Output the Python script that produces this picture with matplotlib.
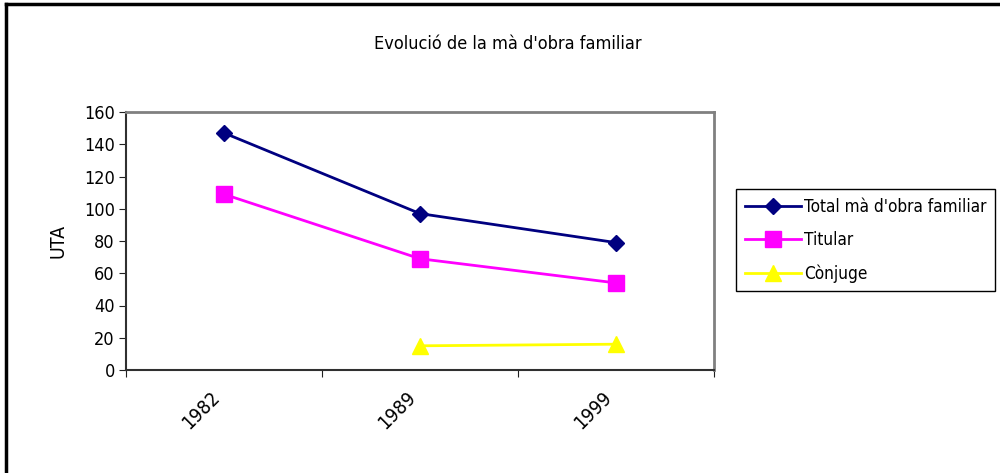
import matplotlib
matplotlib.use("Agg")
import matplotlib.pyplot as plt
import matplotlib.transforms as mtransforms
from matplotlib.lines import Line2D
import numpy as np

years = ["1982", "1989", "1999"]
total = [147, 97, 79]
titular = [109, 69, 54]
conjuge = [np.nan, 15, 16]

series_names = ["Total mà d'obra familiar", "Titular", "Cònjuge"]

plt.rcParams["font.family"] = ["DejaVu Sans"]
plt.rcParams["font.stretch"] = "condensed"

W, H = 1000, 473
fig = plt.figure(figsize=(W / 100, H / 100), dpi=100)
ax = fig.add_axes([126 / W, 1 - 370 / H, (714 - 126) / W, (370 - 112) / H])

x = np.arange(len(years))
ax.plot(x, total, color="#000080", marker="D", markersize=8, lw=2, label=series_names[0])
ax.plot(x, titular, color="#FF00FF", marker="s", markersize=11, lw=2, label=series_names[1])
ax.plot(x, conjuge, color="#FFFF00", marker="^", markersize=12, lw=2, label=series_names[2])

ax.set_xlim(-0.5, len(years) - 0.5)
ax.set_ylim(0, 160)
ax.set_yticks(range(0, 161, 20))
ax.set_xticks(np.arange(-0.5, len(years), 1.0))
ax.set_xticklabels([])
ax.set_xticks(x, minor=True)
ax.set_xticklabels(years, minor=True, rotation=45, ha="right", va="center",
                   rotation_mode="anchor", fontsize=14)
ax.tick_params(axis="x", which="minor", length=0, pad=18)
ax.tick_params(axis="x", which="major", length=5, direction="out", color="#202020")
ax.tick_params(axis="y", length=5, direction="out", labelsize=13, color="#202020", pad=3)

shift = mtransforms.ScaledTranslation(-7 / 100, 0, fig.dpi_scale_trans)
for lbl in ax.get_xticklabels(minor=True):
    lbl.set_transform(lbl.get_transform() + shift)

for side in ["top", "right"]:
    ax.spines[side].set_color("#808080")
    ax.spines[side].set_linewidth(2)
for side in ["left", "bottom"]:
    ax.spines[side].set_color("#303030")
    ax.spines[side].set_linewidth(1.5)

ax.set_ylabel("UTA", fontsize=14, labelpad=12)
fig.text(508 / W, 1 - 44 / H, "Evolució de la mà d'obra familiar", fontsize=13,
         ha="center", va="center")

leg = ax.legend(loc="upper left", bbox_to_anchor=(736 / W, 1 - 189 / H),
                bbox_transform=fig.transFigure, fontsize=12.3, frameon=True,
                fancybox=False, edgecolor="black", framealpha=1,
                handlelength=3.3, handletextpad=0.2, borderpad=0.5,
                labelspacing=0.9, borderaxespad=0)
leg.get_frame().set_linewidth(1.0)

# outer chart frame (only left and top visible)
fig.add_artist(Line2D([6 / W, 6 / W], [0, 1 - 4 / H], color="black", lw=2.5,
                      transform=fig.transFigure))
fig.add_artist(Line2D([6 / W, 1], [1 - 4 / H, 1 - 4 / H], color="black", lw=2.5,
                      transform=fig.transFigure))

fig.savefig("out.png", dpi=100)
